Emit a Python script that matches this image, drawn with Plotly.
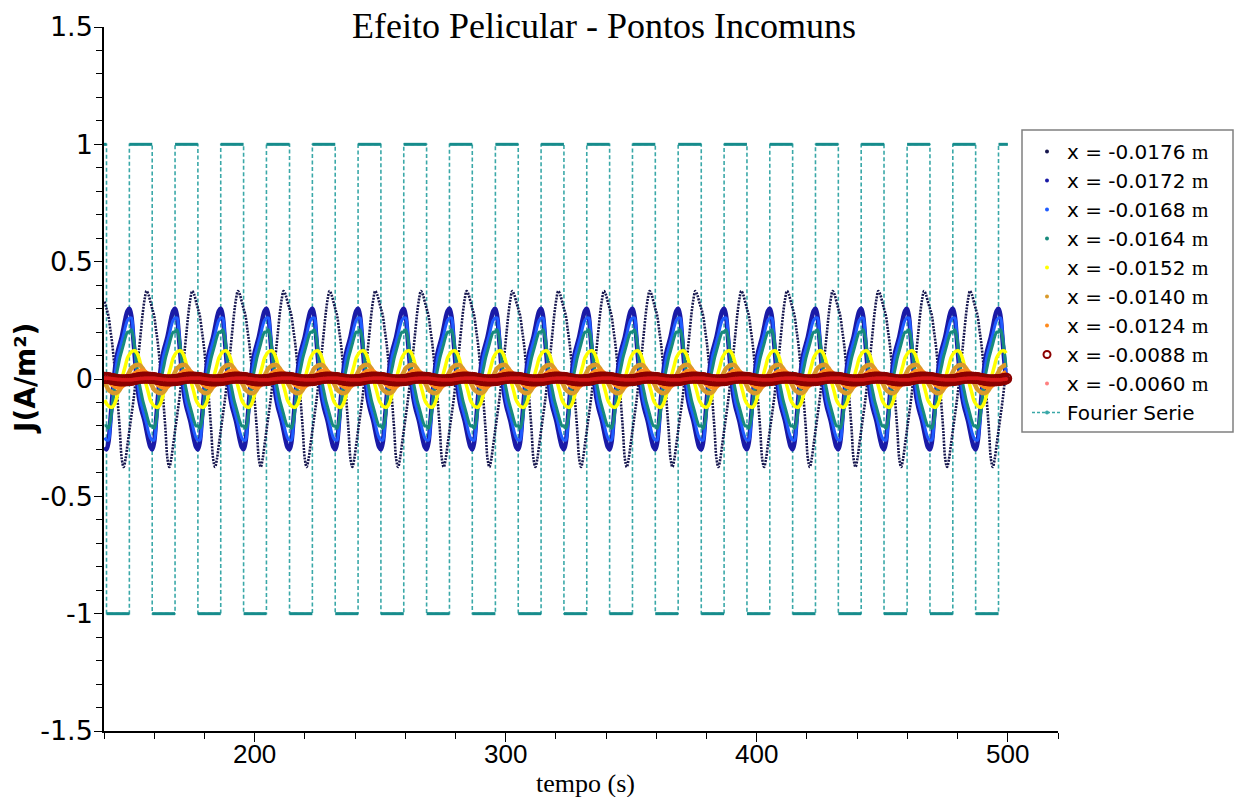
import plotly.graph_objects as go

# ---------------- data ----------------
# switching instants of the square wave ("Fourier Serie"), seconds
edge_times = [141.0, 150.1, 159.2, 168.3, 177.4, 186.5, 195.6, 204.7, 213.9, 223.0,
              232.1, 241.2, 250.3, 259.4, 268.5, 277.6, 286.7, 295.9, 305.0, 314.1,
              323.2, 332.3, 341.4, 350.5, 359.6, 368.7, 377.9, 387.0, 396.1, 405.2,
              414.3, 423.4, 432.5, 441.6, 450.7, 459.9, 469.0, 478.1, 487.2, 496.3]
t_start, t_end = 140.0, 500.0
level_start = 1.0

# one cycle of each current density series (24 samples, starting at a falling edge)
J_0176 = [0.30, 0.27, 0.21, 0.15, 0.07, -0.01, -0.11, -0.22, -0.34, -0.375, -0.34, -0.28,
          -0.22, -0.16, -0.10, -0.03, 0.05, 0.12, 0.20, 0.28, 0.34, 0.375, 0.36, 0.33]
J_0172 = [-0.30, -0.27, -0.18, -0.08, 0.01, 0.08, 0.12, 0.15, 0.18, 0.22, 0.26, 0.29,
          0.30, 0.27, 0.18, 0.08, -0.01, -0.08, -0.12, -0.15, -0.18, -0.22, -0.26, -0.29]
J_0168 = [-0.26, -0.26, -0.20, -0.11, -0.02, 0.05, 0.10, 0.13, 0.16, 0.19, 0.225, 0.25,
          0.26, 0.26, 0.20, 0.11, 0.02, -0.05, -0.10, -0.13, -0.16, -0.19, -0.225, -0.25]
J_0164 = [-0.20, -0.21, -0.18, -0.12, -0.05, 0.01, 0.05, 0.09, 0.12, 0.15, 0.18, 0.20,
          0.20, 0.21, 0.18, 0.12, 0.05, -0.01, -0.05, -0.09, -0.12, -0.15, -0.18, -0.20]
J_0152 = [-0.105, -0.115, -0.12, -0.12, -0.11, -0.09, -0.06, -0.03, 0.0, 0.03, 0.06, 0.09,
          0.105, 0.115, 0.12, 0.12, 0.11, 0.09, 0.06, 0.03, 0.0, -0.03, -0.06, -0.09]
J_0140 = [-0.03, -0.045, -0.052, -0.058, -0.06, -0.06, -0.055, -0.045, -0.03, -0.015, 0.0, 0.015,
          0.03, 0.045, 0.052, 0.058, 0.06, 0.06, 0.055, 0.045, 0.03, 0.015, 0.0, -0.015]
J_0124 = [0.0, -0.009, -0.017, -0.025, -0.03, -0.034, -0.035, -0.035, -0.032, -0.025, -0.017, -0.009,
          0.0, 0.009, 0.017, 0.025, 0.03, 0.034, 0.035, 0.035, 0.032, 0.025, 0.017, 0.009]
J_0088 = [0.005, 0.004, 0.002, 0.0, -0.002, -0.004, -0.005, -0.006, -0.006, -0.006, -0.006, -0.005,
          -0.005, -0.004, -0.002, 0.0, 0.002, 0.004, 0.005, 0.006, 0.006, 0.006, 0.006, 0.005]
J_0060 = [0.003, 0.003, 0.002, 0.001, 0.0, -0.001, -0.002, -0.002, -0.003, -0.003, -0.003, -0.003,
          -0.003, -0.003, -0.002, -0.001, 0.0, 0.001, 0.002, 0.002, 0.003, 0.003, 0.003, 0.003]

series_names = ["x = -0.0176", "x = -0.0172", "x = -0.0168", "x = -0.0164", "x = -0.0152",
                "x = -0.0140", "x = -0.0124", "x = -0.0088", "x = -0.0060"]
series_values = [J_0176, J_0172, J_0168, J_0164, J_0152, J_0140, J_0124, J_0088, J_0060]

x_tick_vals = [200, 300, 400, 500]
x_tick_text = ["200", "300", "400", "500"]
y_tick_vals = [-1.5, -1, -0.5, 0, 0.5, 1, 1.5]
y_tick_text = ["-1.5", "-1", "-0.5", "0", "0.5", "1", "1.5"]

# ---------------- styling ----------------
colors = ["#16164e", "#1a1aa6", "#1f5cff", "#178a7c", "#ffff00",
          "#d99a2b", "#ff8a1c", "#8b0000", "#ff8080"]
SQ = "#3aa8a8"
SQ_DARK = "#168c8c"

# period derived from the switching instants
T = 2 * (edge_times[-1] - edge_times[0]) / (len(edge_times) - 1)
cycle_starts = [edge_times[0] - T] + edge_times[0::2]


def tile(values):
    xs, ys = [], []
    n = len(values)
    for f in cycle_starts:
        for k, v in enumerate(values):
            t = f + k * T / n
            if t_start <= t <= t_end:
                xs.append(t)
                ys.append(v)
    return xs, ys


# square wave polyline
sq_x, sq_y = [t_start], [level_start]
lvl = level_start
hx, hy = [t_start], [level_start]
for e in edge_times:
    sq_x += [e, e]
    sq_y += [lvl, -lvl]
    hx += [e, None, e]
    hy += [lvl, None, -lvl]
    lvl = -lvl
sq_x.append(t_end)
sq_y.append(lvl)
hx.append(t_end)
hy.append(lvl)

fig = go.Figure()

fig.add_trace(go.Scatter(x=sq_x, y=sq_y, mode="lines", showlegend=False,
                         line=dict(color=SQ, width=1.6, dash="4px,2.5px"), legendgroup="fs"))
fig.add_trace(go.Scatter(x=hx, y=hy, mode="lines", showlegend=False,
                         line=dict(color=SQ_DARK, width=3), legendgroup="fs"))

widths = {1: 4.5, 2: 3, 3: 3, 4: 3.5, 5: 4.5, 6: 4.5}
for i, (name, vals) in enumerate(zip(series_names, series_values)):
    xs, ys = tile(vals)
    grp = "g%d" % i
    if i == 0:
        fig.add_trace(go.Scatter(x=xs, y=ys, mode="lines", line_shape="spline",
                                 line=dict(color=colors[i], width=2.6, dash="2px,1.2px"),
                                 showlegend=False, legendgroup=grp))
    elif i == 7:
        fig.add_trace(go.Scatter(x=xs, y=ys, mode="markers",
                                 marker=dict(symbol="circle-open", size=10, color=colors[i],
                                             line=dict(width=2.2, color=colors[i])),
                                 showlegend=False, legendgroup=grp))
    elif i == 8:
        fig.add_trace(go.Scatter(x=xs, y=ys, mode="markers",
                                 marker=dict(size=4, color="#d81818"),
                                 showlegend=False, legendgroup=grp))
    else:
        fig.add_trace(go.Scatter(x=xs, y=ys, mode="lines", line_shape="spline",
                                 line=dict(color=colors[i], width=widths[i]),
                                 showlegend=False, legendgroup=grp))
    # legend entry (point symbol, as in the original)
    if i == 7:
        mk = dict(symbol="circle-open", size=7, color=colors[i], line=dict(width=2, color=colors[i]))
    else:
        mk = dict(symbol="circle", size=4, color=colors[i])
    fig.add_trace(go.Scatter(x=[None], y=[None], mode="markers", marker=mk,
                             name=name + " <span style='font-family:Liberation Serif;font-size:21px'>m</span>",
                             legendgroup=grp, showlegend=True))

fig.add_trace(go.Scatter(x=[None], y=[None], mode="lines+markers", name="Fourier Serie",
                         line=dict(color=SQ, width=1.6, dash="3px,2px"),
                         marker=dict(size=4, color=SQ), legendgroup="fs", legendrank=2000))

# legend frame (pixel box of the original legend, converted to paper units)
PL, PW, PT, PH = 104, 954, 27, 704
box_l, box_r, box_t, box_b = 1022, 1233, 130, 432

fig.update_layout(
    width=1236, height=797,
    margin=dict(l=PL, r=1236 - PL - PW, t=PT, b=797 - PT - PH),
    paper_bgcolor="white", plot_bgcolor="white",
    title=dict(text="Efeito Pelicular - Pontos Incomuns", x=0.4887, xanchor="center",
               y=1 - 25 / 797, yanchor="middle", yref="container",
               font=dict(family="Liberation Serif", size=36, color="black")),
    showlegend=True,
    legend=dict(x=(box_l + 5 - PL) / PW, y=(PT + PH - box_t - 2) / PH, xanchor="left", yanchor="top",
                bgcolor="rgba(0,0,0,0)", borderwidth=0,
                font=dict(family="DejaVu Sans", size=20, color="black"),
                tracegroupgap=0, itemsizing="trace"),
    shapes=[dict(type="rect", xref="paper", yref="paper", layer="above",
                 x0=(box_l - PL) / PW, x1=(box_r - PL) / PW,
                 y0=(PT + PH - box_b) / PH, y1=(PT + PH - box_t) / PH,
                 fillcolor="white", line=dict(color="#808080", width=1.5))],
    xaxis=dict(range=[t_start, 520], showgrid=False, zeroline=False,
               showline=True, linecolor="black", linewidth=1.5,
               ticks="outside", ticklen=9, tickcolor="black", tickwidth=1,
               tickmode="array", tickvals=x_tick_vals, ticktext=x_tick_text,
               ticklabelstandoff=-10,
               tickfont=dict(family="Liberation Sans", size=26, color="black"),
               minor=dict(tickmode="linear", tick0=0, dtick=20, ticks="outside",
                          ticklen=6, tickcolor="black", showgrid=False)),
    yaxis=dict(range=[-1.5, 1.5], showgrid=False, zeroline=False,
               showline=True, linecolor="black", linewidth=1.5,
               ticks="outside", ticklen=8, tickcolor="black", tickwidth=1,
               tickmode="array", tickvals=y_tick_vals, ticktext=y_tick_text,
               ticklabelstandoff=-4,
               tickfont=dict(family="DejaVu Sans", size=27, color="black"),
               minor=dict(tickmode="linear", tick0=0, dtick=0.1, ticks="outside",
                          ticklen=6, tickcolor="black", showgrid=False)),
    annotations=[
        dict(text="<b>J(A/m²)</b>", xref="paper", yref="paper", x=-(PL - 25) / PW, y=0.5,
             xanchor="center", yanchor="middle", textangle=-90, showarrow=False,
             font=dict(family="DejaVu Sans", size=28, color="black")),
        dict(text="tempo (s)", xref="paper", yref="paper", x=(585 - PL) / PW,
             y=-(783 - PT - PH) / PH, xanchor="center", yanchor="middle", showarrow=False,
             font=dict(family="Liberation Serif", size=26, color="black")),
    ],
)

fig.write_html("out.html")
